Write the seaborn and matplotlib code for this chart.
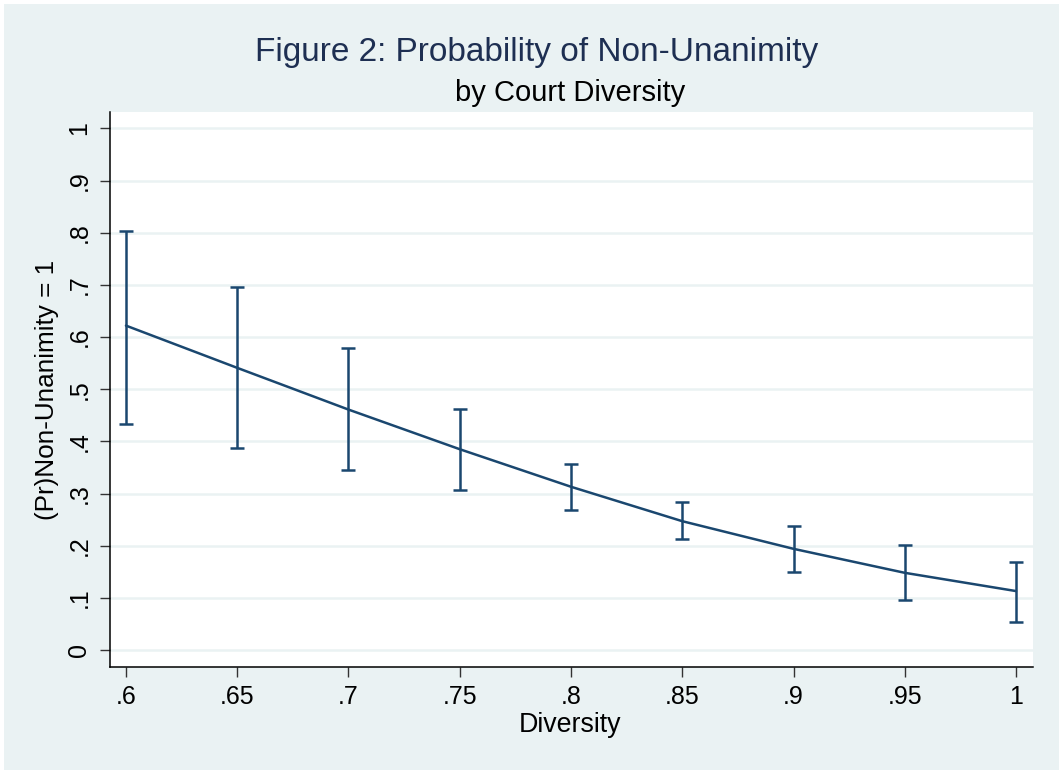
import matplotlib
matplotlib.use("Agg")
import matplotlib.pyplot as plt
import seaborn as sns
import pandas as pd
from matplotlib.patches import Rectangle

# Data
diversity = [0.60, 0.65, 0.70, 0.75, 0.80, 0.85, 0.90, 0.95, 1.00]
prob = [0.622, 0.541, 0.461, 0.385, 0.313, 0.247, 0.194, 0.148, 0.113]
ci_low = [0.433, 0.387, 0.345, 0.307, 0.268, 0.213, 0.150, 0.095, 0.054]
ci_high = [0.804, 0.697, 0.580, 0.462, 0.357, 0.283, 0.237, 0.201, 0.169]
xtick_vals = [0.60, 0.65, 0.70, 0.75, 0.80, 0.85, 0.90, 0.95, 1.00]
xtick_labels = [".6", ".65", ".7", ".75", ".8", ".85", ".9", ".95", "1"]
ytick_vals = [0, 0.1, 0.2, 0.3, 0.4, 0.5, 0.6, 0.7, 0.8, 0.9, 1.0]
ytick_labels = ["0", ".1", ".2", ".3", ".4", ".5", ".6", ".7", ".8", ".9", "1"]

df = pd.DataFrame({"Diversity": diversity, "prob": prob, "lo": ci_low, "hi": ci_high})

sns.set_theme(style="white")
plt.rcParams["font.family"] = ["Liberation Sans", "DejaVu Sans"]

BG = "#EAF2F3"
NAVY = "#1A476F"

fig = plt.figure(figsize=(10.59, 7.70), dpi=100, facecolor="white")
fig.patches.append(Rectangle((4 / 1059, 0), 1, 1 - 4 / 770, transform=fig.transFigure,
                             facecolor=BG, edgecolor="none", zorder=-10))
ax = fig.add_axes([109.5 / 1059, 1 - 667 / 770, (1032.7 - 109.5) / 1059, (667 - 112) / 770])
ax.set_facecolor("white")

for v in ytick_vals:
    ax.axhline(v, color=BG, lw=1.8, zorder=0)

ax.errorbar(df["Diversity"], df["prob"],
            yerr=[df["prob"] - df["lo"], df["hi"] - df["prob"]],
            fmt="none", ecolor=NAVY, elinewidth=1.8, capsize=5, capthick=1.8, zorder=3)
sns.lineplot(data=df, x="Diversity", y="prob", ax=ax, color=NAVY, lw=1.8, zorder=4)

ax.set_xlim(0.5926, 1.0075)
ax.set_ylim(-0.0326, 1.0316)
ax.set_xticks(xtick_vals)
ax.set_xticklabels(xtick_labels, fontsize=18, color="black")
ax.set_yticks(ytick_vals)
ax.set_yticklabels(ytick_labels, fontsize=18, color="black", rotation=90, va="center")
ax.tick_params(axis="both", direction="out", length=7, width=1, color="#333333", pad=6,
               left=True, bottom=True)
for s in ["top", "right"]:
    ax.spines[s].set_visible(False)
for s in ["left", "bottom"]:
    ax.spines[s].set_color("black")
    ax.spines[s].set_linewidth(1.1)
ax.set_xlabel("")
ax.set_ylabel("")

fig.text(570 / 1059, 1 - 725 / 770, "Diversity", fontsize=19.3, ha="center", va="center", color="black")
fig.text(47 / 1059, 1 - 390 / 770, "(Pr)Non-Unanimity = 1", fontsize=18.8, ha="center", va="center",
         rotation=90, color="black")
fig.text(537 / 1059, 1 - 53 / 770, "Figure 2: Probability of Non-Unanimity", fontsize=24,
         ha="center", va="center", color="#1E2F52")
fig.text(570.5 / 1059, 1 - 93 / 770, "by Court Diversity", fontsize=21, ha="center", va="center",
         color="black")

fig.savefig("out.png", dpi=100, facecolor=fig.get_facecolor())
